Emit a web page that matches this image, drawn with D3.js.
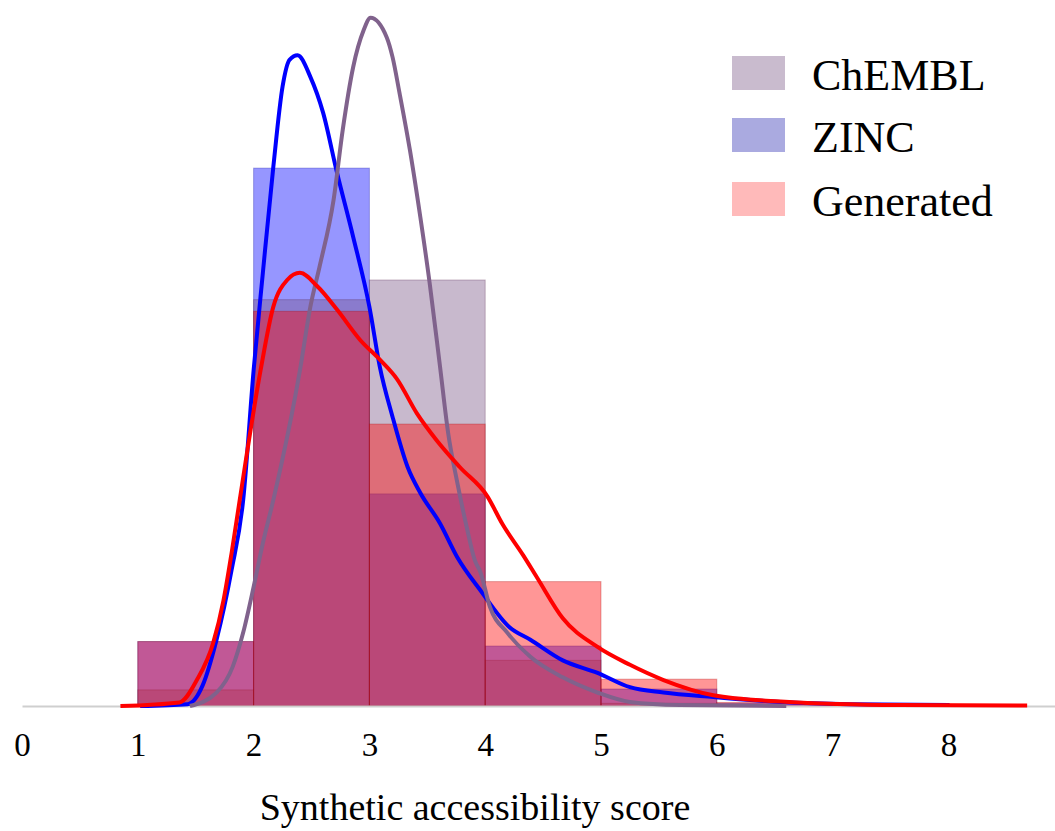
<!DOCTYPE html>
<html lang="en">
<head>
  <meta charset="UTF-8">
  <title>Synthetic accessibility score</title>
  <script src="https://d3js.org/d3.v7.min.js"></script>
  <style>
    body { margin: 0; background: #fff; }
    text { font-family: "Liberation Serif", "DejaVu Serif", serif; fill: #000; }
  </style>
</head>
<body>
<script>
// histogram bins (score ranges) and densities per bin
const binEdges = [1, 2, 3, 4, 5, 6, 7];
const chemblBins = [0.018, 0.454, 0.476, 0.051, 0.003, 0.0];
const zincBins = [0.072, 0.601, 0.237, 0.067, 0.019, 0.003];
const generatedBins = [0.072, 0.441, 0.315, 0.139, 0.030, 0.004];

// kernel density curves: [score, density]
const chemblCurve = [[1.45,0],[1.68,0.015],[1.82,0.044],[1.91,0.082],[2.0,0.133],[2.08,0.182],[2.17,0.230],
  [2.40,0.375],[2.49,0.446],[2.57,0.491],[2.69,0.565],[2.77,0.644],[2.86,0.714],[2.95,0.755],[3.01,0.769],
  [3.15,0.747],[3.20,0.725],[3.26,0.685],[3.35,0.621],[3.44,0.546],[3.52,0.473],[3.61,0.379],[3.68,0.305],
  [3.76,0.249],[3.84,0.200],[3.91,0.163],[3.96,0.149],[4.04,0.111],[4.19,0.082],[4.39,0.055],[4.67,0.032],
  [4.97,0.015],[5.25,0.0045],[5.68,0.001],[6.6,0]];
const zincCurve = [[1.02,0],[1.43,0.002],[1.56,0.023],[1.68,0.074],[1.81,0.152],[1.91,0.230],[2.0,0.375],
  [2.08,0.484],[2.17,0.602],[2.25,0.692],[2.31,0.722],[2.38,0.727],[2.49,0.703],[2.60,0.663],[2.72,0.596],
  [2.86,0.524],[3.0,0.446],[3.09,0.379],[3.20,0.323],[3.33,0.267],[3.44,0.238],[3.61,0.204],[3.76,0.166],
  [3.96,0.129],[4.21,0.088],[4.39,0.074],[4.67,0.051],[4.97,0.037],[5.25,0.021],[5.54,0.015],[5.97,0.010],
  [6.55,0.0045],[7.15,0.002],[8.01,0.001]];
const generatedCurve = [[0.85,0],[1.36,0.004],[1.51,0.029],[1.65,0.070],[1.74,0.118],[1.81,0.171],[1.88,0.230],
  [2.06,0.375],[2.17,0.446],[2.29,0.476],[2.40,0.484],[2.55,0.469],[2.72,0.443],[2.92,0.409],[3.09,0.387],
  [3.24,0.365],[3.41,0.327],[3.58,0.297],[3.78,0.267],[4.02,0.234],[4.15,0.203],[4.33,0.168],[4.45,0.143],
  [4.67,0.098],[4.97,0.066],[5.25,0.046],[5.54,0.029],[5.97,0.012],[6.55,0.005],[7.58,0.001],[8.68,0.0005]];

const tickValues = [0, 1, 2, 3, 4, 5, 6, 7, 8];
const legendNames = ["ChEMBL", "ZINC", "Generated"];

const width = 1055, height = 831;
const baseY = 706;

const x = d3.scaleLinear().domain([0, 9]).range([22, 22 + 9 * 115.8]);
const y = d3.scaleLinear().domain([0, 0.79]).range([baseY, baseY - 0.79 * 895]);

const svg = d3.select("body").append("svg")
  .attr("width", width)
  .attr("height", height);

const chembl = {bins: chemblBins, fill: "rgb(121,84,133)", edge: "rgb(90,40,80)", curve: chemblCurve, line: "rgb(128,98,140)"};
const zinc = {bins: zincBins, fill: "rgb(0,0,255)", edge: "rgb(0,0,160)", curve: zincCurve, line: "rgb(0,0,255)"};
const generated = {bins: generatedBins, fill: "rgb(255,0,0)", edge: "rgb(170,0,0)", curve: generatedCurve, line: "rgb(255,0,0)"};

// bars: ZINC, ChEMBL, then Generated on top
[zinc, chembl, generated].forEach(s => {
  svg.append("g").selectAll("rect")
    .data(s.bins)
    .join("rect")
    .attr("x", (d, i) => x(binEdges[i]))
    .attr("width", (d, i) => x(binEdges[i + 1]) - x(binEdges[i]))
    .attr("y", d => y(d))
    .attr("height", d => baseY - y(d))
    .attr("fill", s.fill)
    .attr("fill-opacity", d => d > 0 ? 0.41 : 0)
    .attr("stroke", s.edge)
    .attr("stroke-opacity", d => d > 0 ? 0.3 : 0)
    .attr("stroke-width", 1);
});

// axis
const xAxis = d3.axisBottom(x).tickValues(tickValues).tickSize(0).tickFormat(d3.format("d"));
const axisG = svg.append("g").attr("transform", `translate(0,${baseY})`).call(xAxis);
axisG.select(".domain").attr("stroke", "#cfcfcf").attr("stroke-width", 2);
axisG.selectAll("text")
  .attr("y", 50).attr("dy", 0)
  .style("font-family", "'Liberation Serif', serif")
  .style("font-size", "33px")
  .attr("fill", "#000");

// density curves: blue, purple, red on top
const line = d3.line().x(d => x(d[0])).y(d => y(d[1])).curve(d3.curveMonotoneX);
[zinc, chembl, generated].forEach(s => {
  svg.append("path")
    .datum(s.curve)
    .attr("d", line)
    .attr("fill", "none")
    .attr("stroke", s.line)
    .attr("stroke-width", 4)
    .attr("stroke-linejoin", "round");
});

// axis title
svg.append("text")
  .attr("x", 475)
  .attr("y", 820)
  .attr("text-anchor", "middle")
  .style("font-size", "38px")
  .text("Synthetic accessibility score");

// legend
const legendFills = ["rgb(201,187,206)", "rgb(170,170,224)", "rgb(255,186,186)"];
const legendY = [56, 118, 182];
const legend = svg.append("g");
legendNames.forEach((name, i) => {
  legend.append("rect")
    .attr("x", 732).attr("y", legendY[i])
    .attr("width", 53).attr("height", 34)
    .attr("fill", legendFills[i]);
  legend.append("text")
    .attr("x", 812).attr("y", legendY[i] + 34)
    .style("font-size", "44px")
    .text(name);
});
</script>
</body>
</html>
